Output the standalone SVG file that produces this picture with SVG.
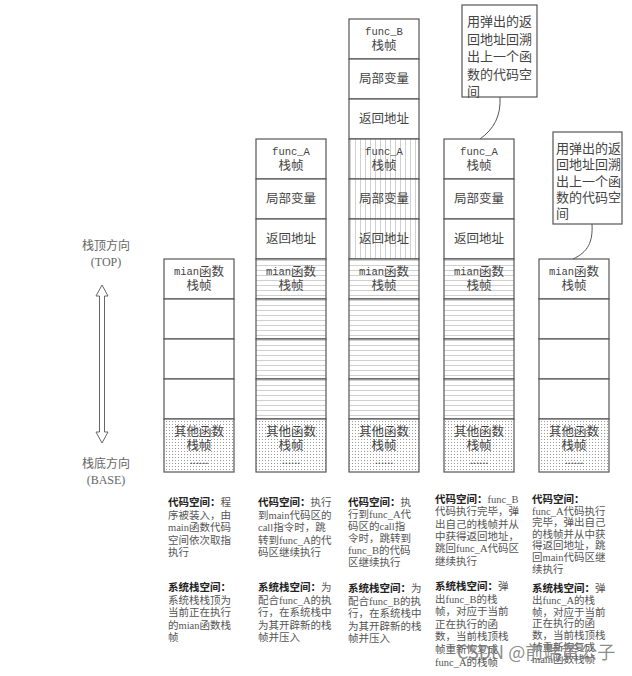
<svg xmlns="http://www.w3.org/2000/svg" width="632" height="676" viewBox="0 0 632 676">
<style>
.cell{stroke:#555;stroke-width:1.2}
.w{fill:#fff}
.h{fill:url(#hatchH)}
.v{fill:url(#hatchV)}
.d{fill:url(#dots)}
.lb{font-family:"Liberation Serif","Noto Sans CJK SC",serif;font-size:12.5px;fill:#444;text-anchor:middle;dominant-baseline:central}
.m{font-family:"Liberation Mono",monospace;font-size:10.5px}
.bt{font-family:"Liberation Serif","Noto Sans CJK SC",serif;font-size:10.5px;fill:#555;dominant-baseline:central}
.b{font-weight:bold;fill:#222}
.co{font-family:"Liberation Serif","Noto Sans CJK SC",serif;font-size:13px;fill:#444;dominant-baseline:central}
.cb{fill:#fff;stroke:#555;stroke-width:1.2}
.cn{fill:none;stroke:#555;stroke-width:1}
.ax{font-family:"Liberation Serif","Noto Sans CJK SC",serif;font-size:12px;fill:#666;text-anchor:middle;dominant-baseline:central}
</style>
<defs>
<pattern id="hatchH" width="5" height="5" patternUnits="userSpaceOnUse"><rect width="5" height="5" fill="#fff"/><line x1="0" y1="0.5" x2="5" y2="0.5" stroke="#c4c4c4" stroke-width="0.8"/></pattern>
<pattern id="hatchV" width="5" height="5" patternUnits="userSpaceOnUse"><rect width="5" height="5" fill="#fff"/><line x1="0.5" y1="0" x2="0.5" y2="5" stroke="#c4c4c4" stroke-width="0.8"/></pattern>
<pattern id="dots" width="3" height="3" patternUnits="userSpaceOnUse"><rect width="3" height="3" fill="#fff"/><circle cx="1.5" cy="1.5" r="0.55" fill="#888"/></pattern>
</defs>
<rect width="632" height="676" fill="#fff"/>

<!-- axis -->
<g id="axis">
<text class="ax" x="106" y="246">栈顶方向</text>
<text class="ax" x="106" y="262">(TOP)</text>
<polygon points="102,285 108,296 104.5,296 104.5,432 108,432 102,443 96,432 99.5,432 99.5,296 96,296" fill="#fff" stroke="#666" stroke-width="1"/>
<text class="ax" x="106" y="464">栈底方向</text>
<text class="ax" x="106" y="480">(BASE)</text>
</g>

<!-- column 1 -->
<g id="col1">
<g id="c1-main"><rect class="cell w" x="164" y="259" width="70" height="40"/><text class="lb" x="199" y="272"><tspan class="m">mian</tspan>函数</text><text class="lb" x="199" y="286">栈帧</text></g>
<g id="c1-r1"><rect class="cell w" x="164" y="299" width="70" height="40"/></g>
<g id="c1-r2"><rect class="cell w" x="164" y="339" width="70" height="40"/></g>
<g id="c1-r3"><rect class="cell w" x="164" y="379" width="70" height="40"/></g>
<g id="c1-other"><rect class="cell d" x="164" y="419" width="70" height="53"/><text class="lb" x="199" y="432">其他函数</text><text class="lb" x="199" y="446">栈帧</text><text class="lb" x="199" y="460">......</text></g>
</g>

<!-- column 2 -->
<g id="col2">
<g id="c2-funcA"><rect class="cell w" x="256" y="139" width="70" height="40"/><text class="lb" x="291" y="152"><tspan class="m">func_A</tspan></text><text class="lb" x="291" y="166">栈帧</text></g>
<g id="c2-local"><rect class="cell w" x="256" y="179" width="70" height="40"/><text class="lb" x="291" y="199">局部变量</text></g>
<g id="c2-ret"><rect class="cell w" x="256" y="219" width="70" height="40"/><text class="lb" x="291" y="239">返回地址</text></g>
<g id="c2-main"><rect class="cell h" x="256" y="259" width="70" height="40"/><text class="lb" x="291" y="272"><tspan class="m">mian</tspan>函数</text><text class="lb" x="291" y="286">栈帧</text></g>
<g id="c2-r1"><rect class="cell h" x="256" y="299" width="70" height="40"/></g>
<g id="c2-r2"><rect class="cell h" x="256" y="339" width="70" height="40"/></g>
<g id="c2-r3"><rect class="cell h" x="256" y="379" width="70" height="40"/></g>
<g id="c2-other"><rect class="cell d" x="256" y="419" width="70" height="53"/><text class="lb" x="291" y="432">其他函数</text><text class="lb" x="291" y="446">栈帧</text><text class="lb" x="291" y="460">......</text></g>
</g>

<!-- column 3 -->
<g id="col3">
<g id="c3-funcB"><rect class="cell w" x="349" y="19" width="70" height="40"/><text class="lb" x="384" y="32"><tspan class="m">func_B</tspan></text><text class="lb" x="384" y="46">栈帧</text></g>
<g id="c3-localB"><rect class="cell w" x="349" y="59" width="70" height="40"/><text class="lb" x="384" y="79">局部变量</text></g>
<g id="c3-retB"><rect class="cell w" x="349" y="99" width="70" height="40"/><text class="lb" x="384" y="119">返回地址</text></g>
<g id="c3-funcA"><rect class="cell v" x="349" y="139" width="70" height="40"/><text class="lb" x="384" y="152"><tspan class="m">func_A</tspan></text><text class="lb" x="384" y="166">栈帧</text></g>
<g id="c3-localA"><rect class="cell v" x="349" y="179" width="70" height="40"/><text class="lb" x="384" y="199">局部变量</text></g>
<g id="c3-retA"><rect class="cell v" x="349" y="219" width="70" height="40"/><text class="lb" x="384" y="239">返回地址</text></g>
<g id="c3-main"><rect class="cell h" x="349" y="259" width="70" height="40"/><text class="lb" x="384" y="272"><tspan class="m">mian</tspan>函数</text><text class="lb" x="384" y="286">栈帧</text></g>
<g id="c3-r1"><rect class="cell h" x="349" y="299" width="70" height="40"/></g>
<g id="c3-r2"><rect class="cell h" x="349" y="339" width="70" height="40"/></g>
<g id="c3-r3"><rect class="cell h" x="349" y="379" width="70" height="40"/></g>
<g id="c3-other"><rect class="cell d" x="349" y="419" width="70" height="53"/><text class="lb" x="384" y="432">其他函数</text><text class="lb" x="384" y="446">栈帧</text><text class="lb" x="384" y="460">......</text></g>
</g>

<!-- column 4 -->
<g id="col4">
<g id="c4-funcA"><rect class="cell w" x="444" y="139" width="70" height="40"/><text class="lb" x="479" y="152"><tspan class="m">func_A</tspan></text><text class="lb" x="479" y="166">栈帧</text></g>
<g id="c4-local"><rect class="cell w" x="444" y="179" width="70" height="40"/><text class="lb" x="479" y="199">局部变量</text></g>
<g id="c4-ret"><rect class="cell w" x="444" y="219" width="70" height="40"/><text class="lb" x="479" y="239">返回地址</text></g>
<g id="c4-main"><rect class="cell h" x="444" y="259" width="70" height="40"/><text class="lb" x="479" y="272"><tspan class="m">mian</tspan>函数</text><text class="lb" x="479" y="286">栈帧</text></g>
<g id="c4-r1"><rect class="cell h" x="444" y="299" width="70" height="40"/></g>
<g id="c4-r2"><rect class="cell h" x="444" y="339" width="70" height="40"/></g>
<g id="c4-r3"><rect class="cell h" x="444" y="379" width="70" height="40"/></g>
<g id="c4-other"><rect class="cell d" x="444" y="419" width="70" height="53"/><text class="lb" x="479" y="432">其他函数</text><text class="lb" x="479" y="446">栈帧</text><text class="lb" x="479" y="460">......</text></g>
</g>

<!-- column 5 -->
<g id="col5">
<g id="c5-main"><rect class="cell w" x="539" y="259" width="70" height="40"/><text class="lb" x="574" y="272"><tspan class="m">mian</tspan>函数</text><text class="lb" x="574" y="286">栈帧</text></g>
<g id="c5-r1"><rect class="cell w" x="539" y="299" width="70" height="40"/></g>
<g id="c5-r2"><rect class="cell w" x="539" y="339" width="70" height="40"/></g>
<g id="c5-r3"><rect class="cell w" x="539" y="379" width="70" height="40"/></g>
<g id="c5-other"><rect class="cell d" x="539" y="419" width="70" height="53"/><text class="lb" x="574" y="432">其他函数</text><text class="lb" x="574" y="446">栈帧</text><text class="lb" x="574" y="460">......</text></g>
</g>

<!-- callouts -->
<g id="callout1">
<rect class="cb" x="462" y="5" width="75" height="92"/>
<text class="co" x="467" y="21"><tspan x="467">用弹出的返</tspan><tspan x="467" dy="17.5">回地址回溯</tspan><tspan x="467" dy="17.5">出上一个函</tspan><tspan x="467" dy="17.5">数的代码空</tspan><tspan x="467" dy="17.5">间</tspan></text>
</g>
<g id="callout2">
<rect class="cb" x="553" y="132" width="69" height="92"/>
<text class="co" x="556" y="148"><tspan x="556">用弹出的返</tspan><tspan x="556" dy="16.3">回地址回溯</tspan><tspan x="556" dy="16.3">出上一个函</tspan><tspan x="556" dy="16.3">数的代码空</tspan><tspan x="556" dy="16.3">间</tspan></text>
</g>

<g id="connectors">
<path class="cn" d="M500,97 C501,116 494,129 480,139"/>
<path class="cn" d="M592,224 C593,242 588,252 573,259"/>
</g>

<!-- descriptions -->
<g id="desc1">
<text class="bt" x="168" y="502"><tspan x="168"><tspan class="b">代码空间：</tspan>程</tspan><tspan x="168" dy="12.5">序被装入，由</tspan><tspan x="168" dy="12.5">main函数代码</tspan><tspan x="168" dy="12.5">空间依次取指</tspan><tspan x="168" dy="12.5">执行</tspan></text>
<text class="bt" x="168" y="587"><tspan x="168" class="b">系统栈空间：</tspan><tspan x="168" dy="12.5">系统栈栈顶为</tspan><tspan x="168" dy="12.5">当前正在执行</tspan><tspan x="168" dy="12.5">的mian函数栈</tspan><tspan x="168" dy="12.5">帧</tspan></text>
</g>
<g id="desc2">
<text class="bt" x="258" y="502"><tspan x="258"><tspan class="b">代码空间：</tspan>执行</tspan><tspan x="258" dy="12.5">到main代码区的</tspan><tspan x="258" dy="12.5">call指令时，跳</tspan><tspan x="258" dy="12.5">转到func_A的代</tspan><tspan x="258" dy="12.5">码区继续执行</tspan></text>
<text class="bt" x="258" y="587"><tspan x="258"><tspan class="b">系统栈空间：</tspan>为</tspan><tspan x="258" dy="12.5">配合func_A的执</tspan><tspan x="258" dy="12.5">行，在系统栈中</tspan><tspan x="258" dy="12.5">为其开辟新的栈</tspan><tspan x="258" dy="12.5">帧并压入</tspan></text>
</g>
<g id="desc3">
<text class="bt" x="348" y="502"><tspan x="348"><tspan class="b">代码空间：</tspan>执</tspan><tspan x="348" dy="12">行到func_A代</tspan><tspan x="348" dy="12">码区的call指</tspan><tspan x="348" dy="12">令时，跳转到</tspan><tspan x="348" dy="12">func_B的代码</tspan><tspan x="348" dy="12">区继续执行</tspan></text>
<text class="bt" x="348" y="588"><tspan x="348"><tspan class="b">系统栈空间：</tspan>为</tspan><tspan x="348" dy="12.5">配合func_B的执</tspan><tspan x="348" dy="12.5">行，在系统栈中</tspan><tspan x="348" dy="12.5">为其开辟新的栈</tspan><tspan x="348" dy="12.5">帧并压入</tspan></text>
</g>
<g id="desc4">
<text class="bt" x="435" y="499"><tspan x="435"><tspan class="b">代码空间：</tspan>func_B</tspan><tspan x="435" dy="12.3">代码执行完毕，弹</tspan><tspan x="435" dy="12.3">出自己的栈帧并从</tspan><tspan x="435" dy="12.3">中获得返回地址，</tspan><tspan x="435" dy="12.3">跳回func_A代码区</tspan><tspan x="435" dy="12.3">继续执行</tspan></text>
<text class="bt" x="435" y="586"><tspan x="435"><tspan class="b">系统栈空间：</tspan>弹</tspan><tspan x="435" dy="12.6">出func_B的栈</tspan><tspan x="435" dy="12.6">帧，对应于当前</tspan><tspan x="435" dy="12.6">正在执行的函</tspan><tspan x="435" dy="12.6">数，当前栈顶栈</tspan><tspan x="435" dy="12.6">帧重新恢复成</tspan><tspan x="435" dy="12.6">func_A的栈帧</tspan></text>
</g>
<g id="desc5">
<text class="bt" x="532" y="499"><tspan x="532" class="b">代码空间：</tspan><tspan x="532" dy="11.6">func_A代码执行</tspan><tspan x="532" dy="11.6">完毕，弹出自己</tspan><tspan x="532" dy="11.6">的栈帧并从中获</tspan><tspan x="532" dy="11.6">得返回地址，跳</tspan><tspan x="532" dy="11.6">回main代码区继</tspan><tspan x="532" dy="11.6">续执行</tspan></text>
<text class="bt" x="532" y="588"><tspan x="532"><tspan class="b">系统栈空间：</tspan>弹</tspan><tspan x="532" dy="11.8">出func_A的栈</tspan><tspan x="532" dy="11.8">帧，对应于当前</tspan><tspan x="532" dy="11.8">正在执行的函</tspan><tspan x="532" dy="11.8">数，当前栈顶栈</tspan><tspan x="532" dy="11.8">帧重新恢复成</tspan><tspan x="532" dy="11.8">main函数栈帧</tspan></text>
</g>

<text x="457" y="659" font-family="'Noto Sans CJK SC','Noto Sans',sans-serif" font-size="18" fill="#777" fill-opacity="0.85">CSDN @前端黄公子</text>
</svg>
